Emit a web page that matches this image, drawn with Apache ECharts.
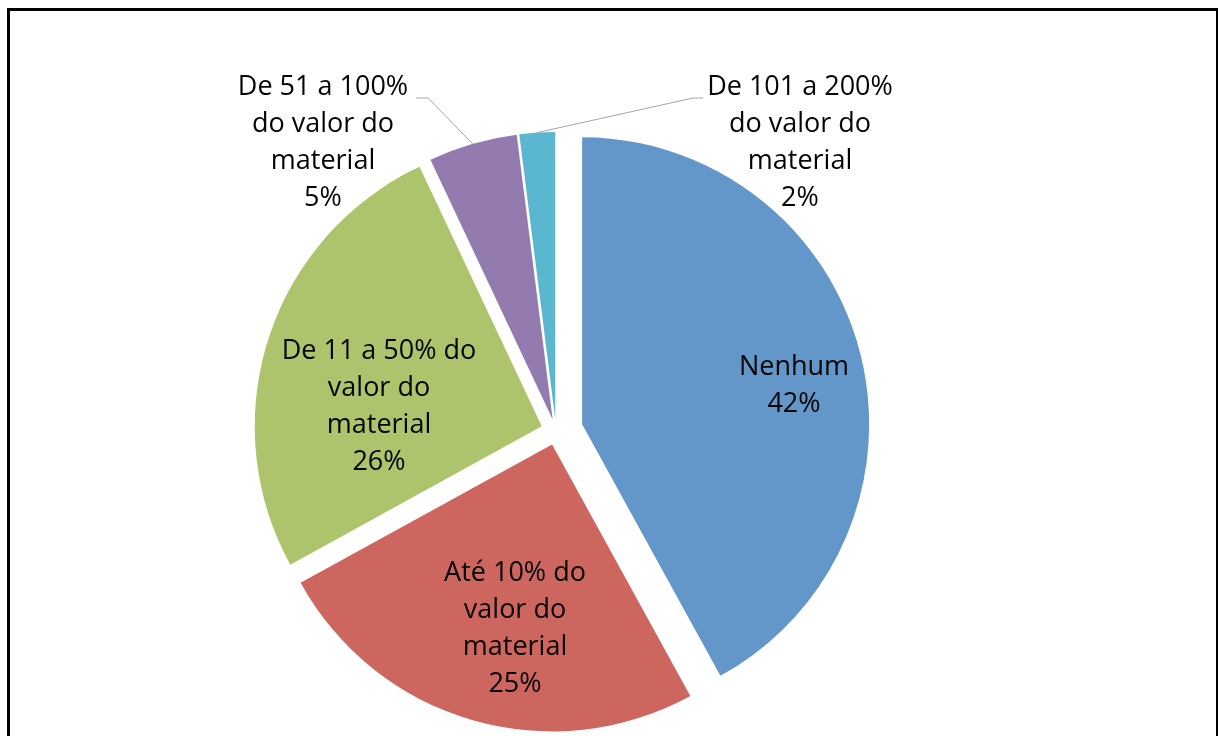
<!DOCTYPE html>
<html>
<head>
<meta charset="utf-8">
<script src="https://cdn.jsdelivr.net/npm/echarts@6/dist/echarts.min.js"></script>
<style>
	html, body { margin: 0; padding: 0; background: #fff; }
	#chart { width: 1218px; height: 736px; }
	#frame {
		position: absolute; left: 7px; top: 8px;
		width: 1206px; height: 760px;
		border: 3px solid #000; border-bottom: none;
		pointer-events: none;
	}
</style>
</head>
<body>
<div id="chart"></div>
<div id="frame"></div>
<script>
// categories, clockwise from 12 o'clock
const categories = [
	'Nenhum',
	'Até 10% do\nvalor do\nmaterial',
	'De 11 a 50% do\nvalor do\nmaterial',
	'De 51 a 100%\ndo valor do\nmaterial',
	'De 101 a 200%\ndo valor do\nmaterial'
];
const shares = [42, 25, 26, 5, 2];

const sliceColors = ['#6396c9', '#cd665e', '#adc46c', '#937bb0', '#5bb7cf'];

// each slice is pulled out by its own amount (px), like the excel original
const explode = [27, 14, 15, 12, 12];
// label block centres (px)
const labelSpots = [[794, 386], [515, 629], [379, 407], [323, 143], [800, 143]];
const outsideIdx = [3, 4];

// the label rect comes in before the slice is pushed out, so undo that push
function explodeShift(i) {
	const total = shares.reduce((a, b) => a + b, 0);
	let before = 0;
	for (let k = 0; k < i; k++) before += shares[k];
	const a = (before + shares[i] / 2) / total * Math.PI * 2;
	return [explode[i] * Math.sin(a), -explode[i] * Math.cos(a)];
}

function layoutLabel(params) {
	const i = params.dataIndex;
	const [ox, oy] = explodeShift(i);
	const x = labelSpots[i][0] - ox;
	const y = labelSpots[i][1] - oy;
	const r = params.labelRect;
	let anchorX = r.x + r.width / 2;
	if (params.align === 'right') anchorX = r.x + r.width;
	else if (params.align === 'left') anchorX = r.x;
	const out = {
		align: 'center',
		dx: x - anchorX,
		dy: y - (r.y + r.height / 2)
	};
	if (outsideIdx.includes(i) && params.labelLinePoints) {
		const start = params.labelLinePoints[0];
		const lineY = y - r.height / 2 + 29;
		if (start[0] > x) {
			// label sits left of the slice
			const right = x + r.width / 2;
			out.labelLinePoints = [start, [right + 20, lineY], [right + 8, lineY]];
		} else {
			const left = x - r.width / 2;
			out.labelLinePoints = [start, [left - 14, lineY], [left - 4, lineY]];
		}
	}
	return out;
}

// one pie per slice so every slice can have its own explosion;
// the other slices of that pie are just invisible spacers
function slicePie(own) {
	return {
		type: 'pie',
		silent: true,
		center: [556, 431],
		radius: [0, 287],
		startAngle: 90,
		clockwise: true,
		selectedMode: 'multiple',
		selectedOffset: explode[own],
		avoidLabelOverlap: false,
		emphasis: { disabled: true },
		itemStyle: { borderWidth: 0 },
		label: {
			formatter: '{b}\n{c}%',
			fontFamily: 'Open Sans',
			fontSize: 27,
			lineHeight: 37,
			color: '#050505',
			align: 'center'
		},
		labelLine: {
			lineStyle: { color: '#a6a6a6', width: 1 }
		},
		labelLayout: layoutLabel,
		data: categories.map((name, i) => {
			if (i !== own) {
				return {
					name, value: shares[i],
					itemStyle: { color: 'rgba(0,0,0,0)' },
					label: { show: false },
					labelLine: { show: false }
				};
			}
			return {
				name,
				value: shares[i],
				selected: true,
				itemStyle: { color: sliceColors[i] },
				label: { position: outsideIdx.includes(i) ? 'outside' : 'inside' },
				labelLine: { show: outsideIdx.includes(i) }
			};
		})
	};
}

const chart = echarts.init(document.getElementById('chart'));
chart.setOption({
	animation: false,
	series: categories.map((_, i) => slicePie(i))
});
</script>
</body>
</html>
